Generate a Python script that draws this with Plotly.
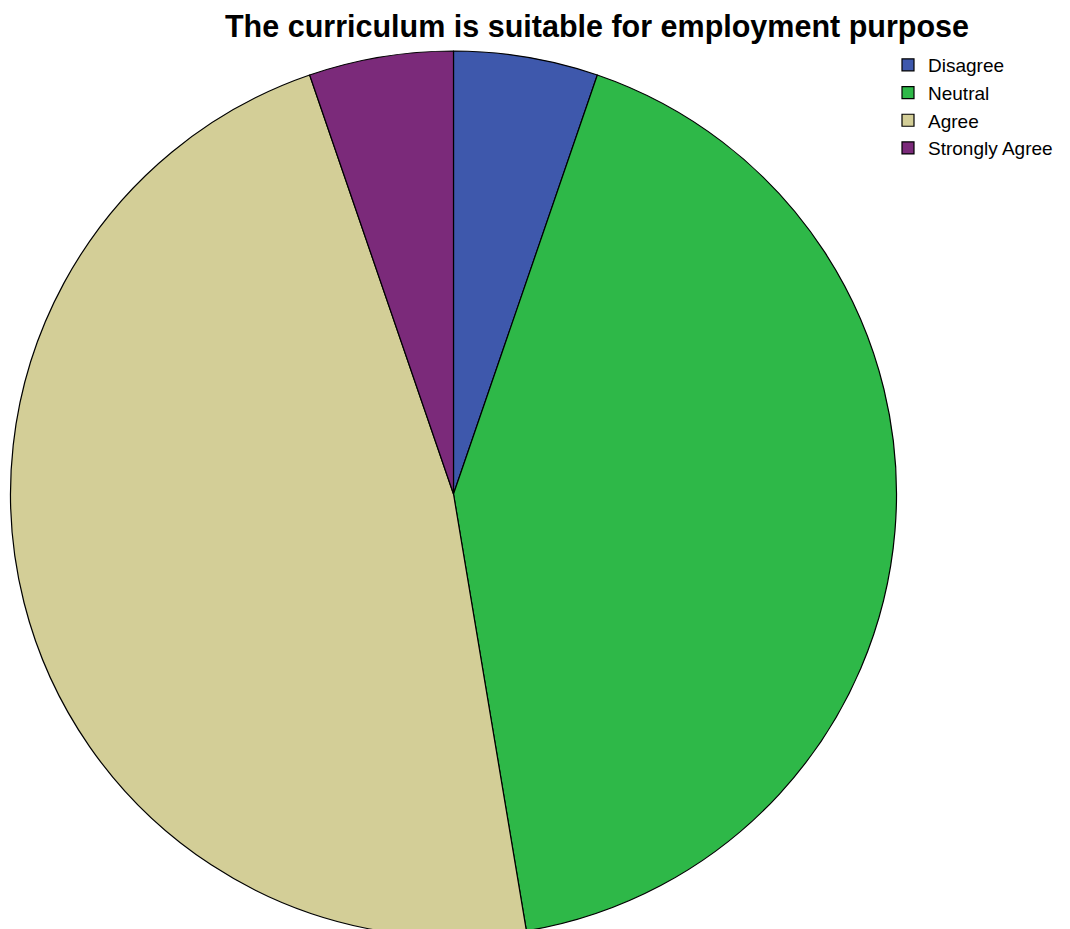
import plotly.graph_objects as go

categories = ["Disagree", "Neutral", "Agree", "Strongly Agree"]
counts = [1, 8, 9, 1]
colors = ["#3E58AC", "#2EB848", "#D3CE97", "#7B2A7A"]

W, H = 1070, 929
OFF = 8  # page body margin
fig = go.Figure(go.Pie(
    labels=categories, values=counts, sort=False, direction="clockwise", rotation=0,
    marker=dict(colors=colors, line=dict(color="#000000", width=1.2)),
    textinfo="none", hoverinfo="label+value+percent",
    domain=dict(x=[(10 - OFF) / W, (897 - OFF) / W], y=[0, 1 - (51 - OFF) / H]),
))
fig.update_layout(
    width=W, height=H, margin=dict(l=0, r=0, t=0, b=0),
    paper_bgcolor="white", plot_bgcolor="white",
    title=dict(text="<b>The curriculum is suitable for employment purpose</b>",
               x=(597 - OFF) / W, xanchor="center", y=1 - (26 - OFF) / H, yanchor="middle",
               font=dict(family="Liberation Sans, Arial", size=30.5, color="#000000")),
    legend=dict(x=(888 - OFF) / W, y=1 - (46 - OFF) / H, xanchor="left", yanchor="top",
                font=dict(family="Liberation Sans, Arial", size=19, color="#000000"),
                tracegroupgap=0, itemwidth=30, bgcolor="rgba(0,0,0,0)"),
)
fig.write_html("out.html")
